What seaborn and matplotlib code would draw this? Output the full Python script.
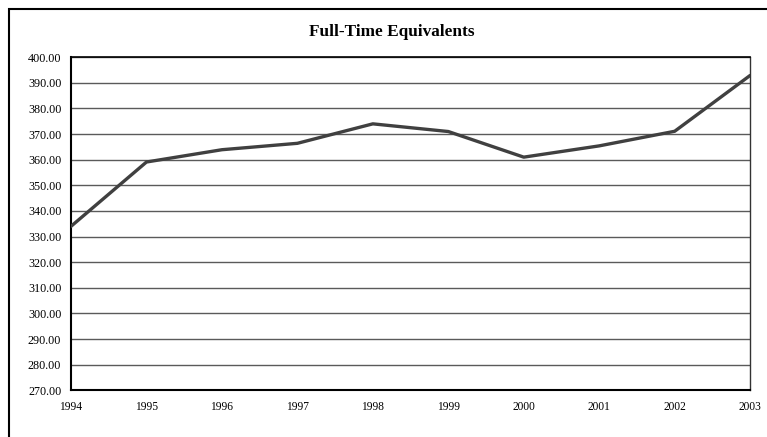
import pandas as pd
import matplotlib.pyplot as plt
import seaborn as sns
from matplotlib.patches import Rectangle

# values
years = [1994, 1995, 1996, 1997, 1998, 1999, 2000, 2001, 2002, 2003]
fte = [334.0, 359.1, 363.9, 366.4, 374.0, 371.0, 361.0, 365.4, 371.1, 392.9]
y_ticks = list(range(270, 401, 10))

df = pd.DataFrame({"Year": years, "FTE": fte})

sns.set_style("white")
plt.rcParams['font.family'] = ['Liberation Serif', 'DejaVu Serif']

fig = plt.figure(figsize=(7.67, 4.37), dpi=100)
ax = fig.add_axes([0.0926, 0.107, 0.8854, 0.762])

# grid lines first so the data line sits on top
for v in y_ticks[1:]:
    ax.axhline(v, color="#5a5a5a", linewidth=1.0, zorder=1)

sns.lineplot(data=df, x="Year", y="FTE", ax=ax, color="#404040", linewidth=2.4, zorder=3)

ax.set_xlim(1994, 2003)
ax.set_ylim(270, 400)
ax.set_xticks(years)
ax.set_yticks(y_ticks)
ax.set_yticklabels([f"{v:.2f}" for v in y_ticks])
ax.set_xlabel("")
ax.set_ylabel("")
ax.tick_params(axis="x", direction="inout", length=5, width=1, labelsize=8.3, pad=5, colors="black")
ax.tick_params(axis="y", direction="out", length=4, width=1, labelsize=8.7, pad=3, colors="black")

for side in ["left", "bottom"]:
    ax.spines[side].set_color("black")
    ax.spines[side].set_linewidth(1.5)
ax.spines["top"].set_color("black")
ax.spines["top"].set_linewidth(1.2)
ax.spines["right"].set_color("#333333")
ax.spines["right"].set_linewidth(1.0)

fig.text(392 / 767, 1 - 32 / 437, "Full-Time Equivalents", ha="center", va="center",
         fontsize=12.4, fontweight="bold", color="black")

# outer chart border, cut off at right and bottom
fig.patches.append(Rectangle((9 / 767, -0.05), 1.1, 1 - 9 / 437 + 0.05, transform=fig.transFigure,
                             fill=False, edgecolor="black", linewidth=1.5))

fig.savefig("out.png", dpi=100)
